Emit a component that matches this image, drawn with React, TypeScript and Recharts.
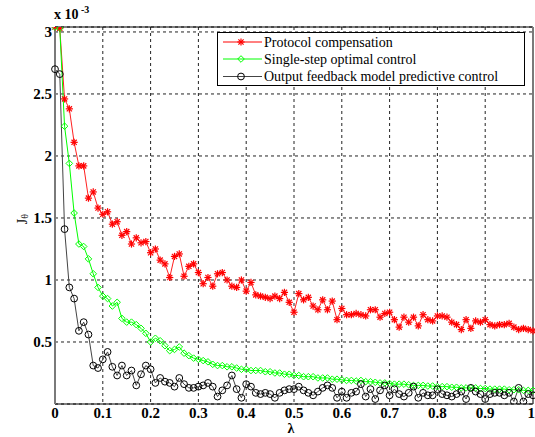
import React from "react";
import { LineChart, Line, XAxis, YAxis, CartesianGrid, ReferenceLine } from "recharts";

const lambda = [
  0, 0.01, 0.02, 0.03, 0.04, 0.05, 0.06, 0.07, 0.08, 0.09,
  0.1, 0.11, 0.12, 0.13, 0.14, 0.15, 0.16, 0.17, 0.18, 0.19,
  0.2, 0.21, 0.22, 0.23, 0.24, 0.25, 0.26, 0.27, 0.28, 0.29,
  0.3, 0.31, 0.32, 0.33, 0.34, 0.35, 0.36, 0.37, 0.38, 0.39,
  0.4, 0.41, 0.42, 0.43, 0.44, 0.45, 0.46, 0.47, 0.48, 0.49,
  0.5, 0.51, 0.52, 0.53, 0.54, 0.55, 0.56, 0.57, 0.58, 0.59,
  0.6, 0.61, 0.62, 0.63, 0.64, 0.65, 0.66, 0.67, 0.68, 0.69,
  0.7, 0.71, 0.72, 0.73, 0.74, 0.75, 0.76, 0.77, 0.78, 0.79,
  0.8, 0.81, 0.82, 0.83, 0.84, 0.85, 0.86, 0.87, 0.88, 0.89,
  0.9, 0.91, 0.92, 0.93, 0.94, 0.95, 0.96, 0.97, 0.98, 0.99, 1,
];

const protocolCompensation = [
  3.04, 3.03, 2.46, 2.38, 2.11, 1.92, 1.92, 1.66, 1.71, 1.58,
  1.53, 1.55, 1.45, 1.47, 1.36, 1.39, 1.29, 1.34, 1.3, 1.31,
  1.22, 1.25, 1.16, 1.13, 1.02, 1.19, 1.21, 1.03, 1.11, 1.13,
  1.06, 0.97, 1.02, 0.95, 1.05, 1.06, 1.0, 0.95, 0.94, 1.0,
  0.91, 0.98, 0.88, 0.87, 0.86, 0.85, 0.87, 0.85, 0.9, 0.82,
  0.74, 0.89, 0.84, 0.86, 0.79, 0.76, 0.84, 0.76, 0.83, 0.68,
  0.77, 0.72, 0.72, 0.73, 0.72, 0.71, 0.76, 0.76, 0.7, 0.73,
  0.74, 0.68, 0.62, 0.7, 0.66, 0.7, 0.63, 0.72, 0.68, 0.67,
  0.71, 0.71, 0.7, 0.66, 0.64, 0.6, 0.68, 0.61, 0.67, 0.66,
  0.68, 0.64, 0.63, 0.64, 0.64, 0.65, 0.62, 0.6, 0.61, 0.6, 0.59,
];

const singleStepOptimal = [
  3.04, 3.03, 2.24, 1.94, 1.54, 1.29, 1.27, 1.17, 1.05, 0.94,
  0.87, 0.85, 0.79, 0.82, 0.69, 0.66, 0.66, 0.64, 0.61, 0.57,
  0.5, 0.53, 0.51, 0.47, 0.43, 0.44, 0.46, 0.41, 0.39, 0.37,
  0.36, 0.35, 0.34, 0.32, 0.31, 0.31, 0.3, 0.3, 0.29, 0.28,
  0.28, 0.27, 0.27, 0.27, 0.26, 0.26, 0.25, 0.25, 0.24, 0.24,
  0.23, 0.23, 0.22, 0.22, 0.22, 0.21, 0.21, 0.21, 0.2, 0.2,
  0.195, 0.19, 0.19, 0.185, 0.19, 0.18, 0.18, 0.175, 0.17, 0.17,
  0.165, 0.16, 0.16, 0.16, 0.155, 0.15, 0.15, 0.15, 0.145, 0.145,
  0.14, 0.14, 0.14, 0.135, 0.135, 0.13, 0.13, 0.13, 0.13, 0.125,
  0.125, 0.12, 0.12, 0.12, 0.12, 0.115, 0.115, 0.115, 0.11, 0.11, 0.11,
];

const outputFeedbackMPC = [
  2.7, 2.66, 1.41, 0.94, 0.85, 0.59, 0.66, 0.56, 0.31, 0.29,
  0.36, 0.42, 0.3, 0.23, 0.31, 0.23, 0.27, 0.15, 0.24, 0.31,
  0.28, 0.17, 0.21, 0.18, 0.17, 0.14, 0.21, 0.16, 0.13, 0.13,
  0.14, 0.15, 0.17, 0.14, 0.06, 0.11, 0.15, 0.23, 0.12, 0.05,
  0.16, 0.14, 0.09, 0.08, 0.09, 0.08, 0.05, 0.09, 0.11, 0.12,
  0.12, 0.14, 0.11, 0.09, 0.07, 0.1, 0.13, 0.15, 0.13, 0.05,
  0.1, 0.05, 0.09, 0.1, 0.16, 0.06, 0.12, 0.04, 0.11, 0.15,
  0.07, 0.12, 0.08, 0.06, 0.09, 0.14, 0.05, 0.09, 0.07, 0.07,
  0.12, 0.08, 0.07, 0.06, 0.08, 0.1, 0.04, 0.13, 0.1, 0.08,
  0.04, 0.08, 0.09, 0.09, 0.07, 0.09, 0.02, 0.13, 0.02, 0.08, 0.07,
];

const xTicks = [0, 0.1, 0.2, 0.3, 0.4, 0.5, 0.6, 0.7, 0.8, 0.9, 1];
const yTicks = [0.5, 1, 1.5, 2, 2.5, 3];
const seriesNames = [
  "Protocol compensation",
  "Single-step optimal control",
  "Output feedback model predictive control",
];

const data = lambda.map((x, i) => ({
  x,
  pc: protocolCompensation[i],
  ss: singleStepOptimal[i],
  of: outputFeedbackMPC[i],
}));

const FONT = "'Liberation Serif', 'Times New Roman', serif";

function StarMark({ cx, cy }: { cx: number; cy: number }) {
  const s = 3.6;
  const d = 2.6;
  return (
    <g stroke="#ff0000" strokeWidth={1.2}>
      <line x1={cx - s} y1={cy} x2={cx + s} y2={cy} />
      <line x1={cx} y1={cy - s} x2={cx} y2={cy + s} />
      <line x1={cx - d} y1={cy - d} x2={cx + d} y2={cy + d} />
      <line x1={cx - d} y1={cy + d} x2={cx + d} y2={cy - d} />
    </g>
  );
}

function DiamondMark({ cx, cy }: { cx: number; cy: number }) {
  const s = 3.3;
  return (
    <path
      d={`M${cx},${cy - s}L${cx + s},${cy}L${cx},${cy + s}L${cx - s},${cy}Z`}
      fill="none"
      stroke="#00ff00"
      strokeWidth={1}
    />
  );
}

function CircleMark({ cx, cy }: { cx: number; cy: number }) {
  return <circle cx={cx} cy={cy} r={3.4} fill="none" stroke="#000" strokeWidth={1} />;
}

const XTick = (props: any) => {
  const { x, payload } = props;
  const isLast = payload.value === 1;
  return (
    <text
      x={isLast ? 535 : x}
      y={413}
      textAnchor={isLast ? "end" : "middle"}
      dominantBaseline="central"
      fontFamily={FONT}
      fontWeight="bold"
      fontSize={15}
      fill="#000"
    >
      {String(payload.value)}
    </text>
  );
};

const YTick = (props: any) => {
  const { y, payload } = props;
  return (
    <text x={52} y={y} textAnchor="end" dominantBaseline="central" fontFamily={FONT} fontWeight="bold" fontSize={15} fill="#000">
      {String(payload.value)}
    </text>
  );
};

export default function App() {
  return (
    <div style={{ position: "absolute", left: 0, top: 0, width: 535, height: 437, background: "#fff" }}>
      <LineChart width={535} height={437} data={data} margin={{ top: 27, right: 2, left: 0, bottom: 0 }}>
        <CartesianGrid stroke="#222" strokeDasharray="3 3" strokeWidth={1} />
        <XAxis
          dataKey="x"
          type="number"
          domain={[0, 1]}
          ticks={xTicks}
          tick={XTick}
          tickLine={false}
          height={33}
          axisLine={{ stroke: "#000", strokeWidth: 1 }}
          interval={0}
        />
        <YAxis
          type="number"
          domain={[0, 3.04]}
          ticks={yTicks}
          tick={YTick}
          tickLine={false}
          width={55}
          axisLine={{ stroke: "#7a7a7a", strokeWidth: 2 }}
          interval={0}
          allowDataOverflow
        />
        <ReferenceLine y={3.04} stroke="#000" strokeWidth={1} />
        <ReferenceLine x={1} stroke="#7a7a7a" strokeWidth={2} />
        <Line
          dataKey="pc"
          stroke="#ff2020"
          strokeWidth={1}
          isAnimationActive={false}
          dot={(p: any) => <StarMark key={`pc-${p.index}`} cx={p.cx} cy={p.cy} />}
        />
        <Line
          dataKey="ss"
          stroke="#00ff00"
          strokeWidth={1}
          isAnimationActive={false}
          dot={(p: any) => <DiamondMark key={`ss-${p.index}`} cx={p.cx} cy={p.cy} />}
        />
        <Line
          dataKey="of"
          stroke="#444"
          strokeWidth={1}
          isAnimationActive={false}
          dot={(p: any) => <CircleMark key={`of-${p.index}`} cx={p.cx} cy={p.cy} />}
        />
      </LineChart>
      <svg width={535} height={437} style={{ position: "absolute", left: 0, top: 0, pointerEvents: "none" }}>
        <text x={54} y={19} fontFamily={FONT} fontWeight="bold" fontSize={14} fill="#000">x 10</text>
        <text x={81} y={13} fontFamily={FONT} fontWeight="bold" fontSize={10} fill="#000">-3</text>
        <text x={291} y={428} textAnchor="middle" dominantBaseline="central" fontFamily={FONT} fontWeight="bold" fontSize={14} fill="#000">λ</text>
        <text transform="translate(22,219) rotate(-90)" textAnchor="middle" dominantBaseline="central" fontFamily={FONT} fontSize={14} fill="#000">
          J<tspan fontSize={10} dy={2}>θ</tspan>
        </text>
        <rect x={217.5} y={32.5} width={307} height={53} fill="#fff" stroke="#000" strokeWidth={1} />
        <line x1={223} y1={42} x2={262} y2={42} stroke="#ff0000" strokeWidth={1} />
        <StarMark cx={241} cy={42} />
        <text x={264} y={42} dominantBaseline="central" fontFamily={FONT} fontSize={14} fill="#000">{seriesNames[0]}</text>
        <line x1={223} y1={59} x2={262} y2={59} stroke="#00ff00" strokeWidth={1} />
        <DiamondMark cx={241} cy={59} />
        <text x={264} y={59} dominantBaseline="central" fontFamily={FONT} fontSize={14} fill="#000">{seriesNames[1]}</text>
        <line x1={223} y1={76.5} x2={262} y2={76.5} stroke="#444" strokeWidth={1} />
        <CircleMark cx={241} cy={76.5} />
        <text x={264} y={76.5} dominantBaseline="central" fontFamily={FONT} fontSize={14} fill="#000">{seriesNames[2]}</text>
      </svg>
    </div>
  );
}
